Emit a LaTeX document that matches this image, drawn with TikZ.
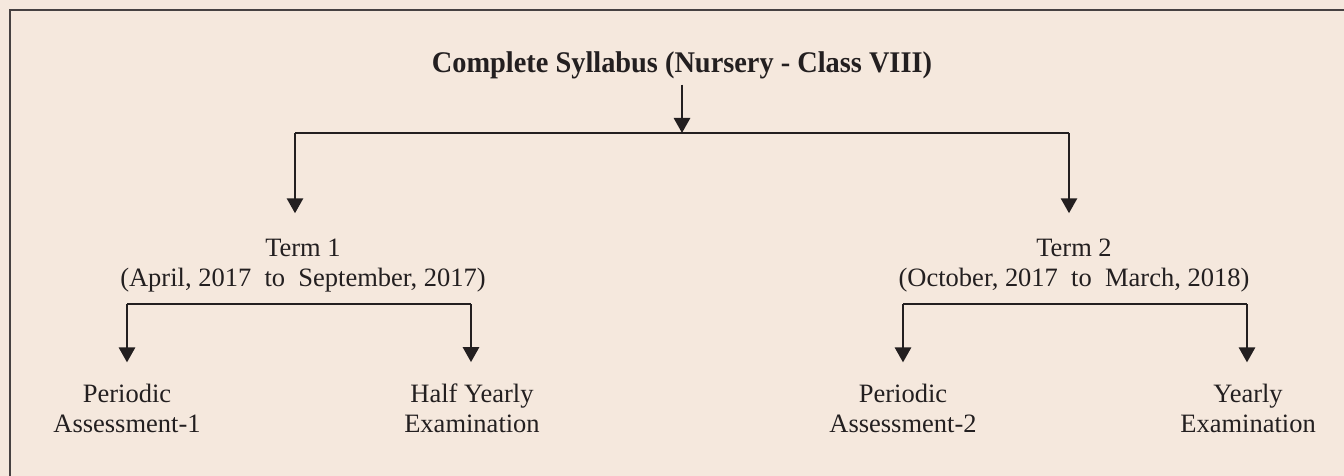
\documentclass[tikz,border=0pt]{standalone}
\usepackage{fontspec}
\setmainfont{Liberation Serif}
\usepackage{graphicx}
\usetikzlibrary{arrows.meta}
\definecolor{bg}{RGB}{245,232,221}
\definecolor{ink}{RGB}{35,31,32}
\definecolor{framec}{RGB}{70,65,65}
\begin{document}
\begin{tikzpicture}[x=1pt,y=-1pt,
  lbl/.style={font=\fontsize{26.5}{30}\selectfont, text=ink, align=center, inner sep=0pt},
  ttl/.style={font=\fontsize{30}{36}\selectfont\bfseries, text=ink, inner sep=0pt},
  conn/.style={draw=ink, line width=2.8pt},
  arr/.style={conn, -{Triangle[width=16pt,length=15pt]}}]
\fill[bg] (0,0) rectangle (1344,476);
\useasboundingbox (0,0) rectangle (1344,476);
\draw[framec, line width=1.8pt] (1344,10) -- (10,10) -- (10,476);

\node[ttl, anchor=base] (title) at (682,73) {\scalebox{0.945}[1]{Complete Syllabus (Nursery - Class VIII)}};
\node[lbl, anchor=base] (term1) at (303,286) {Term 1\\(April, 2017~~to~~September, 2017)};
\node[lbl, anchor=base] (term2) at (1074,286) {Term 2\\(October, 2017~~to~~March, 2018)};
\node[lbl, anchor=base] (pa1) at (127,432) {Periodic\\Assessment-1};
\node[lbl, anchor=base] (hye) at (472,432) {Half Yearly\\Examination};
\node[lbl, anchor=base] (pa2) at (903,432) {Periodic\\Assessment-2};
\node[lbl, anchor=base] (ye) at (1248,432) {Yearly\\Examination};

\coordinate (j0) at (682,133);
\coordinate (jL) at (295,133);
\coordinate (jR) at (1069,133);
\coordinate (s1L) at (127,304);
\coordinate (s1R) at (471,304);
\coordinate (s2L) at (903,304);
\coordinate (s2R) at (1247,304);

\draw[arr] ([yshift=-5pt]title.south) -- (j0);
\draw[conn] (jL) -- (jR);
\draw[arr, shorten >=25pt] (jL) -- (jL |- term1.north);
\draw[arr, shorten >=25pt] (jR) -- (jR |- term2.north);
\draw[conn] (s1L) -- (s1R);
\draw[conn] (s2L) -- (s2R);
\draw[arr, shorten >=21pt] (s1L) -- (s1L |- pa1.north);
\draw[arr, shorten >=21pt] (s1R) -- (s1R |- hye.north);
\draw[arr, shorten >=21pt] (s2L) -- (s2L |- pa2.north);
\draw[arr, shorten >=21pt] (s2R) -- (s2R |- ye.north);
\end{tikzpicture}
\end{document}
